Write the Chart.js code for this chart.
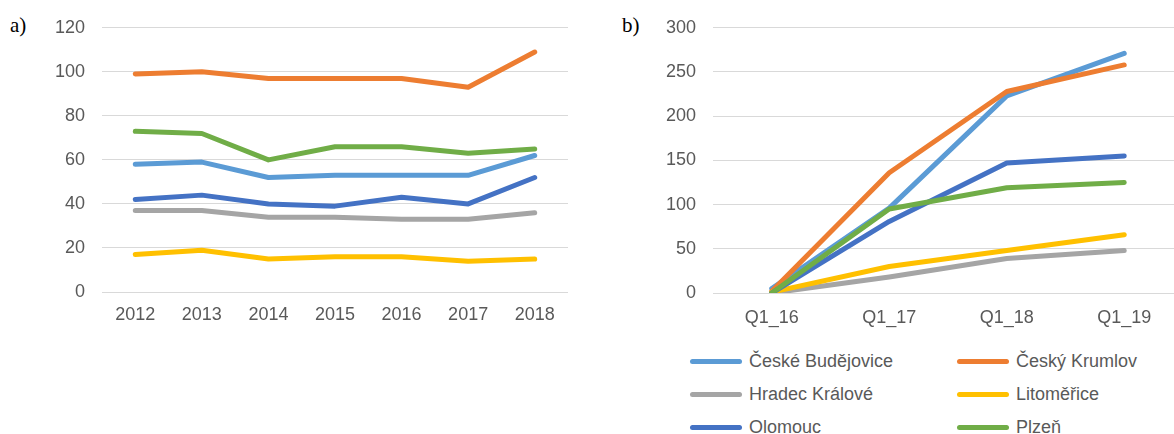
<!DOCTYPE html>
<html>
<head>
<meta charset="utf-8">
<script src="https://cdn.jsdelivr.net/npm/chart.js@4/dist/chart.umd.min.js"></script>
<style>
  html, body { margin: 0; padding: 0; background: #fff; width: 1174px; height: 434px; overflow: hidden; }
  .panel { position: absolute; top: 0; }
  .tag { position: absolute; font-family: "Liberation Serif", serif; font-size: 21px; color: #000; line-height: 1; }
  #legend {
    position: absolute; left: 690px; top: 345px;
    display: grid; grid-template-columns: 267px 200px; grid-auto-rows: 33px;
    font-family: "Liberation Sans", Arial, sans-serif; font-size: 18px; color: #595959;
  }
  #legend .item { display: flex; align-items: center; white-space: nowrap; }
  #legend .swatch { width: 52px; height: 5px; border-radius: 2.5px; margin-right: 7px; }
</style>
</head>
<body>
<div class="tag" style="left:10px; top:15px;">a)</div>
<div class="tag" style="left:622px; top:15px;">b)</div>
<canvas id="chartA" class="panel" style="left:0px;" width="580" height="330"></canvas>
<canvas id="chartB" class="panel" style="left:600px;" width="600" height="331"></canvas>
<div id="legend"></div>

<script>
const cities = ["České Budějovice", "Český Krumlov", "Hradec Králové", "Litoměřice", "Olomouc", "Plzeň"];
const cityColors = ["#5B9BD5", "#ED7D31", "#A5A5A5", "#FFC000", "#4472C4", "#70AD47"];

// panel a) – yearly values
const years = ["2012", "2013", "2014", "2015", "2016", "2017", "2018"];
const yearlyBudejovice = [58, 59, 52, 53, 53, 53, 62];
const yearlyKrumlov    = [99, 100, 97, 97, 97, 93, 109];
const yearlyHradec     = [37, 37, 34, 34, 33, 33, 36];
const yearlyLitomerice = [17, 19, 15, 16, 16, 14, 15];
const yearlyOlomouc    = [42, 44, 40, 39, 43, 40, 52];
const yearlyPlzen      = [73, 72, 60, 66, 66, 63, 65];

// panel b) – quarterly values
const quarters = ["Q1_16", "Q1_17", "Q1_18", "Q1_19"];
const quarterBudejovice = [5, 96, 223, 271];
const quarterKrumlov    = [2, 136, 228, 258];
const quarterHradec     = [0, 18, 39, 48];
const quarterLitomerice = [1, 30, 48, 66];
const quarterOlomouc    = [0, 81, 147, 155];
const quarterPlzen      = [0, 95, 119, 125];

const tickFont = { family: "Liberation Sans", size: 18 };
const tickColor = "#595959";

function makeChart(id, labels, series, yMax, yStep, axisWidth, rightPad, labelPad) {
  return new Chart(document.getElementById(id), {
    type: "line",
    data: {
      labels: labels,
      datasets: series.map((values, i) => ({
        label: cities[i],
        data: values,
        borderColor: cityColors[i],
        backgroundColor: cityColors[i],
        borderWidth: 5,
        pointRadius: 0,
        borderCapStyle: "round",
        borderJoinStyle: "round",
        tension: 0,
        order: series.length - 1 - i // later series on top
      }))
    },
    options: {
      responsive: false,
      animation: false,
      layout: { padding: { top: 26, right: rightPad, left: 0, bottom: 0 } },
      plugins: { legend: { display: false }, tooltip: { enabled: false } },
      scales: {
        x: {
          offset: true,
          grid: { display: false },
          border: { display: false },
          ticks: { color: tickColor, font: tickFont, padding: labelPad, maxRotation: 0 },
          afterFit(scale) { scale.height = 38; }
        },
        y: {
          min: 0,
          max: yMax,
          ticks: { stepSize: yStep, color: tickColor, font: tickFont, padding: 17 },
          grid: { color: "#D9D9D9", lineWidth: 1, drawTicks: false },
          border: { display: false },
          afterFit(scale) { scale.width = axisWidth; }
        }
      }
    }
  });
}

makeChart("chartA", years,
  [yearlyBudejovice, yearlyKrumlov, yearlyHradec, yearlyLitomerice, yearlyOlomouc, yearlyPlzen],
  120, 20, 102, 12, 4);

const chartB = makeChart("chartB", quarters,
  [quarterBudejovice, quarterKrumlov, quarterHradec, quarterLitomerice, quarterOlomouc, quarterPlzen],
  300, 50, 113, 17, 6);

// legend under panel b), two columns
const legend = document.getElementById("legend");
legend.innerHTML = chartB.data.datasets
  .map(ds => `<div class="item"><span class="swatch" style="background:${ds.borderColor}"></span>${ds.label}</div>`)
  .join("");
</script>
</body>
</html>
